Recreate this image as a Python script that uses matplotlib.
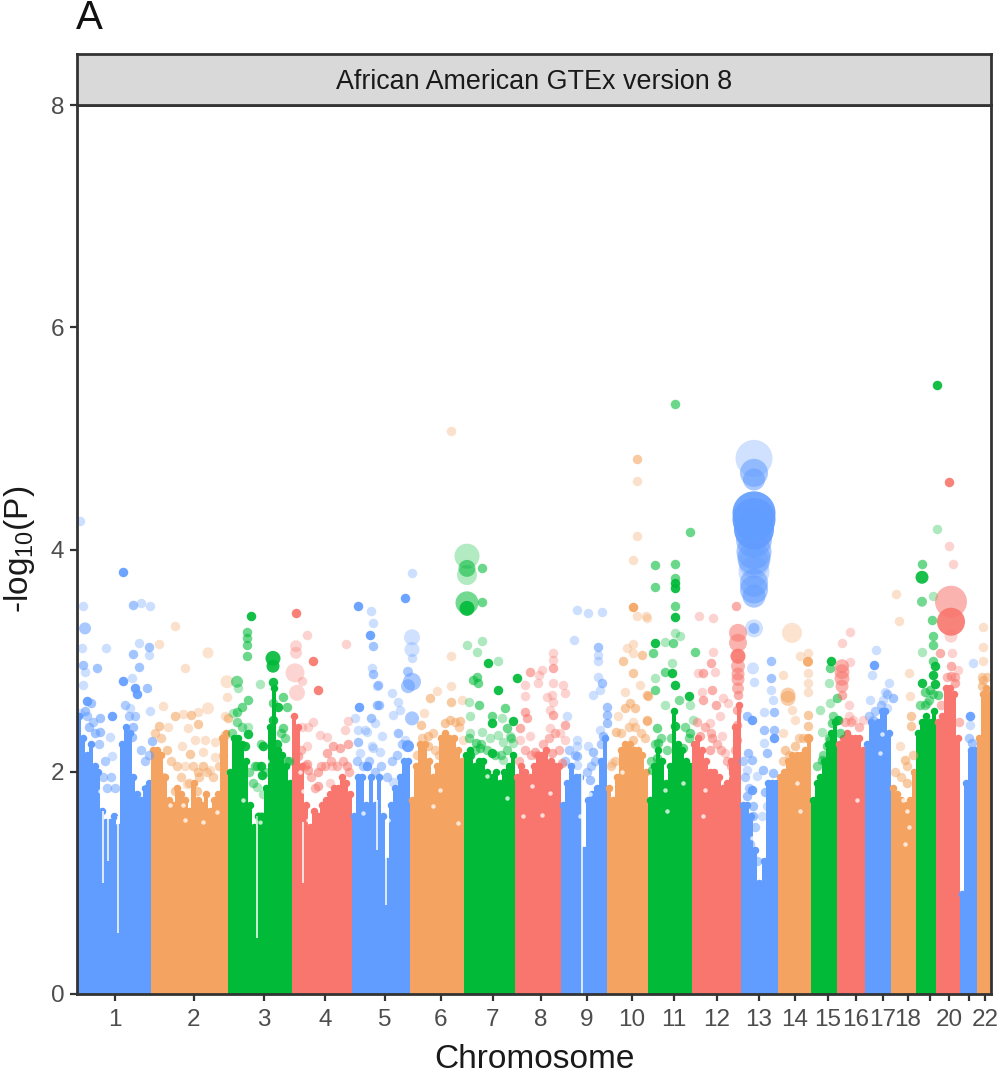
import numpy as np
import matplotlib
matplotlib.use("Agg")
import matplotlib.pyplot as plt

plt.rcParams['font.family'] = ['Liberation Sans', 'DejaVu Sans']
plt.rcParams['mathtext.default'] = 'regular'

palette = ["#619CFF", "#F4A460", "#00BA38", "#F8766D"]

# chromosome lengths on the genome axis and tick places
chrom_len = [74, 77, 64, 60, 58, 54, 51, 46, 46, 41, 44, 49, 37, 33, 26, 28, 26, 25, 20, 24, 17, 15]
tick_pos = [38, 117, 187, 248, 308, 364, 416, 464, 510, 555, 597, 640, 682, 718, 751, 779, 806, 831, 853, 872, 892, 908]
tick_labels = ["1", "2", "3", "4", "5", "6", "7", "8", "9", "10", "11", "12", "13", "14", "15", "16", "17", "18", "", "20", "", "22"]

# height of the solid mass of SNPs along each chromosome
chr1_h = [2.5, 2.3, 2.15, 2.25, 2.05, 2.0, 1.65, 1.55, 1.55, 1.6, 1.5, 2.25, 2.4, 2.35, 1.95, 1.8, 1.75, 1.85, 1.9]
chr2_h = [2.2, 2.2, 2.15, 1.95, 1.75, 1.7, 1.85, 1.8, 1.75, 1.65, 1.9, 1.75, 1.7, 1.8, 1.65, 1.75, 1.8, 2.3, 2.35]
chr3_h = [2.0, 2.3, 2.3, 2.25, 2.1, 1.7, 1.5, 1.6, 1.6, 1.85, 2.4, 2.75, 2.2, 2.15, 2.05, 1.9]
chr4_h = [2.5, 2.4, 2.05, 1.7, 1.5, 1.65, 1.6, 1.7, 1.75, 1.8, 1.85, 1.85, 1.95, 1.9, 1.8]
chr5_h = [1.6, 1.95, 1.95, 1.7, 1.95, 1.7, 1.95, 1.6, 1.2, 1.7, 1.85, 1.95, 2.1, 2.1]
chr6_h = [1.75, 2.05, 2.25, 2.25, 2.1, 1.95, 2.05, 2.3, 2.35, 2.3, 2.3, 2.2, 2.1]
chr7_h = [2.15, 2.2, 2.05, 2.1, 2.1, 2.0, 1.95, 2.0, 1.9, 2.0, 2.05, 2.15]
chr8_h = [1.95, 2.05, 2.0, 1.95, 2.05, 2.15, 2.15, 2.2, 2.1, 2.05, 2.05]
chr9_h = [1.7, 1.9, 2.05, 1.95, 1.95, 1.3, 1.75, 1.8, 1.85, 2.1, 2.3]
chr10_h = [1.85, 1.75, 1.95, 2.2, 2.25, 2.25, 2.2, 2.2, 2.15, 2.0]
chr11_h = [1.75, 2.05, 2.2, 2.1, 1.9, 2.05, 2.55, 2.25, 2.2, 2.1, 2.05]
chr12_h = [2.25, 2.3, 2.2, 2.1, 2.0, 2.0, 1.95, 1.85, 1.9, 2.1, 2.4, 2.6]
chr13_h = [1.7, 1.7, 1.6, 1.3, 1.0, 1.2, 1.9, 1.9, 1.9]
chr14_h = [1.95, 2.0, 2.1, 2.15, 2.15, 2.15, 2.2, 2.3]
chr15_h = [1.75, 1.9, 1.95, 2.1, 2.25, 2.35, 2.45]
chr16_h = [2.25, 2.3, 2.35, 2.3, 2.3, 2.3, 2.2]
chr17_h = [2.25, 2.45, 2.4, 2.45, 2.55, 2.55, 2.35]
chr18_h = [1.85, 1.8, 1.75, 1.7, 1.75, 2.0]
chr19_h = [2.35, 2.45, 2.5, 2.45, 2.55]
chr20_h = [2.45, 2.5, 2.75, 2.75, 2.7, 2.3]
chr21_h = [0.9, 1.9, 2.2, 2.2]
chr22_h = [2.3, 2.7, 2.75, 2.7]
mass_heights = [chr1_h, chr2_h, chr3_h, chr4_h, chr5_h, chr6_h, chr7_h, chr8_h, chr9_h, chr10_h, chr11_h,
                chr12_h, chr13_h, chr14_h, chr15_h, chr16_h, chr17_h, chr18_h, chr19_h, chr20_h, chr21_h, chr22_h]

# narrow stretches without SNPs inside the mass: position, from, to
gap_pos = [505.5, 41, 26, 180, 31, 226, 300, 309]
gap_low = [0.0, 0.55, 1.0, 0.5, 1.2, 1.0, 1.3, 0.8]
gap_high = [2.1, 1.6, 1.65, 1.6, 1.6, 1.55, 1.75, 1.3]

# small holes in the mass: (position, -log10 P)
holes = [(26, 1.8), (33, 1.95), (23, 1.83), (60, 2.05), (66, 1.9), (63, 2.13), (100, 1.98), (93, 1.7), (106, 1.7), (140, 1.64),
         (126, 1.55), (108, 1.57), (180, 1.75), (183, 1.55), (166, 1.75), (173, 1.9), (190, 2.1), (231, 1.57), (226, 1.83),
         (246, 1.87), (236, 1.75), (223, 2.0), (286, 1.63), (310, 1.8), (311, 1.57), (363, 1.84), (356, 1.69), (381, 1.54),
         (430, 1.76), (410, 1.96), (465, 1.61), (455, 1.87), (473, 1.81), (446, 1.6), (506, 2.0), (513, 1.8), (503, 1.6),
         (545, 2.0), (590, 1.65), (588, 1.84), (606, 1.9), (628, 1.84), (650, 1.96), (643, 2.13), (626, 1.6), (680, 1.72),
         (683, 1.56), (681, 1.9), (675, 1.4), (686, 1.25), (720, 1.9), (723, 1.65), (780, 1.75), (805, 2.34), (803, 2.17),
         (830, 1.65), (826, 1.75), (823, 1.95), (828, 1.35), (832, 1.5)]

# single SNPs: (genome position, -log10 P)
blue_faint = [(3, 4.26), (5.7, 3.49), (5, 3.11), (29, 3.11), (64, 3.52), (73, 3.49), (62, 3.16), (72, 3.05),
              (8, 2.90), (55, 2.84), (6, 2.78), (53, 2.57), (73, 2.55), (3, 2.53), (33, 2.31), (35, 2.14),
              (294, 3.45), (296, 3.34), (295, 2.93), (300, 2.77), (278, 2.48), (298, 2.44), (281, 2.38), (290, 2.36),
              (283, 2.17), (295, 2.23), (288, 2.38), (305, 2.32), (296, 2.21), (303, 2.18), (316, 1.91),
              (335, 3.79), (335, 3.02), (315, 2.71), (321, 2.63), (323, 2.56), (316, 2.51), (328, 2.29),
              (500, 3.46), (511, 3.43), (525, 3.44), (497, 3.19), (521, 3.05), (521, 3.0), (521, 2.85), (523, 2.74),
              (516, 2.69), (490, 2.50), (500, 2.29), (500, 2.23), (523, 2.38), (511, 2.23), (500, 2.06),
              (677, 2.81), (687, 2.54), (687, 2.26), (694, 2.74), (696, 2.65), (670, 2.02), (680, 1.96), (685, 1.6), (690, 1.69),
              (799, 3.10), (795, 2.87), (812, 2.80), (808, 2.72), (806, 2.65), (793, 2.65), (810, 2.57),
              (893, 2.42), (896, 2.98)]
blue_mid = [(56, 3.50), (72, 3.12), (56, 3.06), (6, 2.96), (20, 2.93), (62, 2.94), (70, 2.75), (23, 2.48), (23, 2.36),
            (56, 2.40), (55, 2.31), (75, 2.28), (12, 2.40), (18, 2.35), (8, 2.55), (14, 2.62),
            (296, 3.13), (296, 2.88), (300, 2.6), (294, 2.48), (281, 2.27), (302, 2.60), (301, 2.78), (321, 2.35),
            (521, 3.12), (525, 2.80), (530, 2.58), (530, 2.51), (530, 2.44), (500, 2.14), (526, 2.32), (516, 2.18), (513, 1.93),
            (694, 3.0), (694, 2.84), (697, 2.54), (670, 2.5), (687, 2.38), (697, 2.38), (671, 2.17), (675, 2.11), (690, 2.17),
            (686, 2.02), (696, 1.99), (688, 1.82), (676, 1.69), (676, 1.6), (670, 1.78), (816, 2.66), (796, 2.47),
            (895, 2.26)]
blue_dark = [(46, 3.80), (46, 2.82), (58, 2.75), (60, 2.70), (10, 2.64), (35, 2.50), (281, 3.49), (293, 3.23), (282, 2.58),
             (290, 2.05), (328, 3.56), (675, 2.47), (697, 2.3), (675, 1.84), (797, 2.96), (893, 2.5)]
blue_band = [(10, 2.5), (16, 2.45), (22, 2.25), (28, 2.1), (34, 1.95), (38, 1.85), (48, 2.6), (52, 2.5), (58, 2.5), (64, 2.2),
             (68, 2.1), (72, 2.15), (30, 1.85), (26, 1.95), (280, 2.1), (286, 2.05), (292, 2.1), (298, 2.0), (304, 2.05),
             (310, 1.95), (315, 2.1), (320, 2.15), (325, 2.25), (488, 2.1), (492, 2.2), (498, 2.15), (510, 2.0), (514, 2.05),
             (518, 2.1), (524, 2.25), (792, 2.5), (798, 2.55), (804, 2.6), (810, 2.7), (892, 2.3),
             (668, 1.95), (672, 1.85), (678, 1.5), (666, 2.1), (673, 1.35), (680, 1.2)]

orange_faint = [(98, 3.31), (82, 3.15), (108, 2.93), (150, 2.67), (86, 2.59), (106, 2.52), (121, 2.54), (91, 2.40),
                (111, 2.39), (148, 2.50), (118, 2.29), (128, 2.29), (138, 2.27), (105, 2.23), (126, 2.18), (108, 2.05),
                (110, 1.89), (133, 2.02), (138, 2.13),
                (374, 5.07), (374, 3.04), (360, 2.73), (374, 2.77), (385, 2.65), (347, 2.53), (386, 2.29),
                (560, 4.62), (560, 4.12), (556, 3.91), (560, 3.40), (570, 3.38), (569, 3.40), (556, 3.15), (550, 3.11), (556, 3.07),
                (563, 2.78), (548, 2.72), (541, 2.50), (556, 2.45), (546, 2.11), (535, 2.08),
                (723, 3.04), (731, 3.07), (731, 2.89), (731, 2.80), (731, 2.72), (706, 2.87), (715, 2.56), (718, 2.47), (706, 2.35),
                (819, 3.60), (822, 3.36), (832, 2.89), (833, 2.68), (823, 2.23), (906, 3.30), (906, 3.12), (906, 3.0)]
orange_mid = [(98, 2.50), (114, 2.51), (82, 2.41), (151, 2.48), (121, 2.43), (90, 2.2), (113, 2.16), (126, 2.05), (121, 2.0),
              (86, 1.95), (98, 1.83), (120, 1.83), (148, 2.33),
              (353, 2.66), (374, 2.63), (344, 2.42), (368, 2.44), (373, 2.47), (383, 2.46), (351, 2.32), (351, 2.23), (373, 2.29),
              (560, 4.81), (565, 3.05), (546, 3.0), (556, 2.89), (571, 2.68), (553, 2.62), (548, 2.57), (558, 2.57), (570, 2.46),
              (539, 2.36), (556, 2.29), (570, 2.69), (570, 2.47),
              (731, 2.51), (731, 2.41), (718, 2.23), (708, 2.2), (834, 2.5), (834, 2.41), (828, 2.11), (830, 1.9),
              (906, 2.83), (905, 2.77)]
orange_dark = [(556, 3.48), (731, 2.30)]
orange_band = [(78, 2.35), (84, 2.3), (94, 2.1), (100, 2.05), (116, 2.05), (122, 1.95), (130, 2.0), (136, 1.95), (142, 2.05),
               (146, 2.15), (104, 1.95), (112, 1.9), (340, 2.15), (345, 2.3), (358, 2.2), (362, 2.15), (366, 2.25), (378, 2.45),
               (382, 2.4), (356, 2.35), (534, 2.05), (538, 2.1), (544, 2.35), (552, 2.4), (558, 2.4), (564, 2.35), (568, 2.3),
               (706, 2.1), (712, 2.15), (722, 2.3), (726, 2.3), (818, 2.0), (824, 1.95), (830, 2.05), (836, 2.15),
               (905, 2.85), (910, 2.85)]

green_faint = [(161, 2.75), (183, 2.79), (156, 2.53), (171, 2.40), (180, 1.86), (186, 1.8), (183, 1.6),
               (405, 3.18), (390, 3.14), (400, 3.08), (421, 3.0), (392, 2.63), (393, 2.50), (425, 2.48), (393, 2.35), (405, 2.36),
               (421, 2.33), (433, 2.32), (413, 2.30), (426, 2.27), (436, 2.26), (426, 2.11),
               (598, 3.25), (603, 3.22), (588, 3.17), (595, 2.98), (578, 2.84), (613, 2.60), (588, 2.6), (616, 2.47),
               (752, 2.8), (753, 2.62), (743, 2.56), (745, 2.36), (860, 4.18), (856, 3.58), (845, 3.08), (850, 2.62)]
green_mid = [(170, 3.26), (170, 3.20), (170, 3.14), (170, 3.04), (171, 2.65), (165, 2.58), (160, 2.54), (196, 2.62), (206, 2.67),
             (210, 2.58), (206, 2.39), (178, 2.05), (210, 2.1),
             (405, 3.83), (405, 3.53), (400, 2.85), (396, 2.83), (401, 2.80), (402, 2.60), (428, 2.57), (415, 2.50), (430, 2.39),
             (399, 2.26), (403, 2.21),
             (598, 5.31), (613, 4.16), (578, 3.86), (598, 3.87), (578, 3.66), (598, 3.74), (598, 3.49), (576, 3.07), (596, 3.16),
             (618, 3.08), (588, 2.90), (578, 2.74), (580, 2.39), (613, 2.35), (581, 2.26), (580, 2.12), (575, 2.02), (606, 2.21),
             (753, 2.93), (760, 2.66), (755, 2.44), (753, 2.29), (763, 2.35), (750, 2.23), (745, 2.11),
             (845, 3.87), (855, 3.37), (856, 3.22), (856, 3.14), (856, 3.0), (853, 2.74), (861, 2.69), (848, 2.72)]
green_dark = [(174, 3.40), (196, 2.81), (201, 2.58), (196, 2.47), (171, 2.34), (186, 2.23), (168, 2.23), (200, 2.25), (196, 2.13),
              (184, 2.05), (185, 1.97),
              (411, 2.98), (421, 2.74), (440, 2.84), (436, 2.46), (415, 2.44), (393, 2.15), (415, 2.17),
              (598, 3.70), (598, 3.65), (598, 3.39), (578, 3.16), (595, 2.89), (598, 2.78), (612, 2.68), (598, 2.41),
              (754, 3.0), (761, 2.47), (860, 5.48), (858, 2.95), (856, 2.87), (858, 2.79), (845, 2.80)]
green_band = [(172, 2.0), (176, 1.9), (180, 2.05), (184, 2.25), (188, 2.0), (160, 2.45), (155, 2.35), (165, 2.4), (204, 2.35),
              (208, 2.3), (212, 2.1), (392, 2.3), (398, 2.2), (404, 2.25), (410, 2.2), (418, 2.15), (424, 2.15), (430, 2.2),
              (434, 2.3), (574, 2.1), (578, 2.25), (584, 2.3), (590, 2.2), (594, 2.3), (602, 2.65), (608, 2.4), (612, 2.3),
              (740, 2.05), (746, 2.15), (752, 2.3), (756, 2.5), (843, 2.6), (848, 2.6), (852, 2.65), (856, 2.7)]

red_faint = [(230, 3.23), (269, 3.15), (225, 2.82), (236, 2.45), (225, 2.40), (231, 2.40), (271, 2.46), (268, 2.38),
             (243, 2.33), (250, 2.31), (230, 2.23), (255, 2.05), (253, 1.9),
             (465, 2.92), (462, 2.87), (461, 2.80), (448, 2.78), (476, 2.80), (486, 2.78), (488, 2.71), (475, 2.69), (448, 2.68),
             (470, 2.67), (476, 2.63), (473, 2.56), (473, 2.39), (453, 2.32), (443, 2.29), (483, 2.35), (488, 2.29),
             (476, 3.07), (476, 3.01),
             (622, 3.40), (636, 3.38), (636, 3.08), (638, 2.90), (621, 2.89), (625, 2.72), (646, 2.66), (651, 2.62), (643, 2.5),
             (633, 2.44), (645, 2.32), (648, 2.17),
             (773, 3.26), (765, 3.16), (773, 2.99), (772, 2.6), (786, 2.47), (776, 2.47), (772, 2.5),
             (872, 4.03), (876, 3.87), (875, 3.07), (881, 2.92)]
red_mid = [(271, 2.25), (263, 2.21), (256, 2.23), (250, 2.17), (230, 2.07), (221, 2.14), (270, 2.05), (241, 2.0), (231, 2.02),
           (241, 1.87),
           (453, 2.90), (476, 2.93), (448, 2.54), (450, 2.48), (476, 2.51), (488, 2.42), (443, 2.39), (458, 2.18), (475, 2.17),
           (465, 2.06), (485, 2.08),
           (659, 3.49), (661, 2.69), (634, 2.98), (626, 2.89), (635, 2.74), (626, 2.65), (639, 2.60), (660, 2.56), (660, 2.42),
           (623, 2.32), (635, 2.30), (660, 2.29), (633, 2.2), (765, 2.69),
           (863, 3.07), (874, 2.95), (878, 2.80), (874, 2.86)]
red_dark = [(219, 3.43), (236, 3.0), (241, 2.74), (872, 4.61)]
red_band = [(224, 2.2), (228, 2.05), (234, 1.95), (238, 1.85), (244, 2.05), (248, 2.05), (254, 2.1), (260, 2.05), (266, 2.1),
            (272, 2.0), (442, 2.1), (448, 2.2), (454, 2.15), (460, 2.15), (466, 2.25), (472, 2.3), (478, 2.35), (482, 2.2),
            (620, 2.45), (628, 2.4), (634, 2.35), (640, 2.25), (644, 2.2), (650, 2.1), (654, 2.05), (658, 2.2),
            (768, 2.45), (774, 2.45), (782, 2.4), (864, 2.6), (870, 2.85), (878, 2.85), (882, 2.45)]

# larger circles, effect drawn as marker diameter: (chromosome, position, -log10 P, effect)
big_faint = [(2, 150, 2.81, 13), (2, 131, 3.07, 11), (2, 131, 2.57, 12),
             (4, 218, 2.89, 19), (4, 220, 2.71, 16), (4, 219, 3.13, 12), (4, 219, 3.07, 12),
             (5, 335, 3.21, 16), (5, 335, 3.10, 15),
             (7, 390, 3.94, 25), (7, 390, 3.77, 20),
             (13, 677, 4.82, 37), (13, 677, 3.88, 31), (13, 677, 3.80, 31), (13, 677, 3.29, 18), (13, 676, 2.93, 12),
             (14, 715, 3.25, 20), (20, 874, 3.22, 13)]
big_mid = [(1, 8, 3.29, 12), (3, 160, 2.81, 12),
           (5, 335, 2.81, 18), (5, 331, 2.77, 14), (5, 335, 2.48, 14), (5, 331, 2.90, 10),
           (7, 390, 3.83, 17), (7, 390, 3.52, 23),
           (12, 661, 3.25, 18), (12, 661, 3.16, 18), (12, 661, 2.95, 14), (12, 661, 2.88, 13), (12, 661, 2.83, 13), (12, 661, 2.75, 12),
           (13, 677, 4.69, 28), (13, 677, 4.63, 22), (13, 677, 4.09, 36), (13, 677, 3.98, 35), (13, 677, 3.92, 33), (13, 677, 3.70, 28),
           (13, 677, 3.64, 28), (13, 677, 3.58, 23), (13, 677, 3.29, 11),
           (14, 711, 2.69, 15), (14, 711, 2.66, 15),
           (16, 765, 2.95, 14), (16, 765, 2.90, 15), (16, 765, 2.84, 15), (16, 765, 2.77, 13), (19, 845, 3.53, 10), (20, 874, 3.53, 32)]
big_dark = [(3, 196, 3.02, 15), (3, 196, 2.95, 13), (5, 331, 2.23, 12), (7, 390, 3.47, 15), (12, 661, 3.04, 15),
            (13, 677, 4.33, 43), (13, 677, 4.27, 43), (13, 677, 4.18, 40), (14, 731, 2.99, 10),
            (19, 845, 3.75, 13), (20, 874, 3.35, 28)]

fig = plt.figure(figsize=(10.04, 10.77), dpi=100)
W, H = 1004.0, 1077.0
ax = fig.add_axes([77 / W, 1 - 994 / H, 914 / W, 889 / H])
strip = fig.add_axes([77 / W, 1 - 105 / H, 914 / W, 51 / H])


def px_size(d):
    # marker diameter in pixels to scatter area
    return (d * 0.72) ** 2


# solid mass, one run of bars per chromosome, with round tops like the points it is made of
start = 0
for i in range(len(chrom_len)):
    heights = mass_heights[i]
    w = chrom_len[i] / len(heights)
    xs = start + w * (np.arange(len(heights)) + 0.5)
    ax.bar(xs, heights, width=w * 1.02, color=palette[i % 4], linewidth=0, zorder=1)
    ax.scatter(xs, heights, s=px_size(7.5), color=palette[i % 4], linewidth=0, zorder=1)
    start += chrom_len[i]

ax.vlines(gap_pos, gap_low, gap_high, color="white", linewidth=1.1, zorder=1.5)
arr = np.array(holes)
ax.scatter(arr[:, 0], arr[:, 1], s=px_size(4.5), color="white", alpha=0.75, linewidth=0, zorder=1.6)

groups = [(blue_band, blue_faint, blue_mid, blue_dark), (orange_band, orange_faint, orange_mid, orange_dark),
          (green_band, green_faint, green_mid, green_dark), (red_band, red_faint, red_mid, red_dark)]
for k in range(4):
    for pts, a in zip(groups[k], [0.5, 0.32, 0.58, 0.92]):
        arr = np.array(pts)
        ax.scatter(arr[:, 0], arr[:, 1], s=px_size(9.5), color=palette[k], alpha=a, linewidth=0, zorder=2)

for pts, a in zip([big_faint, big_mid, big_dark], [0.3, 0.55, 0.9]):
    arr = np.array(pts)
    cols = [palette[(int(c) - 1) % 4] for c in arr[:, 0]]
    ax.scatter(arr[:, 1], arr[:, 2], s=px_size(arr[:, 3]), c=cols, alpha=a, linewidth=0, zorder=3)

ax.set_xlim(0, 914)
ax.set_ylim(0, 8)
ax.set_xticks(tick_pos)
ax.set_xticklabels(tick_labels)
ax.set_yticks([0, 2, 4, 6, 8])
ax.tick_params(axis='both', colors="#333333", labelcolor="#4D4D4D", labelsize=17.5, length=5, width=1.6, pad=4)
ax.tick_params(axis='x', pad=6)
for s in ax.spines.values():
    s.set_linewidth(2)
    s.set_color("#333333")
    s.set_zorder(5)

ax.set_xlabel("Chromosome", fontsize=24, color="#1A1A1A", labelpad=9)
ax.set_ylabel("-log$_{10}$(P)", fontsize=24, color="#1A1A1A", labelpad=10)

strip.set_facecolor("#D9D9D9")
strip.set_xticks([])
strip.set_yticks([])
for s in strip.spines.values():
    s.set_linewidth(2)
    s.set_color("#333333")
strip.text(0.5, 0.46, "African American GTEx version 8", transform=strip.transAxes, ha="center", va="center",
           fontsize=19.4, color="#1A1A1A")

fig.text(76 / W, 1 - 29 / H, "A", fontsize=29, color="#111111", ha="left", va="baseline")

fig.savefig("out.png", dpi=100)
